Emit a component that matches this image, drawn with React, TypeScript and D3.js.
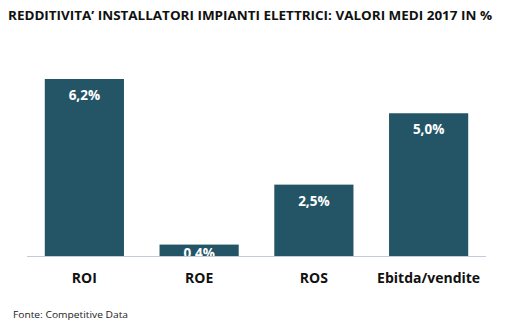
import React from "react";
import * as d3 from "d3";

const categories = ["ROI", "ROE", "ROS", "Ebitda/vendite"];
const values = [6.2, 0.4, 2.5, 5.0];
const valueLabels = ["6,2%", "0,4%", "2,5%", "5,0%"];
const title = "REDDITIVITA’ INSTALLATORI IMPIANTI ELETTRICI: VALORI MEDI 2017 IN %";
const source = "Fonte: Competitive Data";

export default function App() {
  const W = 530, H = 328;
  const baseY = 256;
  const x = d3.scaleBand<string>().domain(categories).range([27, 486]).paddingInner(0.31).paddingOuter(0.155);
  const y = d3.scaleLinear().domain([0, 6.2]).range([baseY, 79]);
  const font = "'Open Sans', Lato, sans-serif";
  return (
    <svg width={W} height={H} style={{ position: "absolute", left: 0, top: 0, background: "#fff" }} fontFamily={font}>
      <rect width={W} height={H} fill="#fff" />
      <text x={8} y={20} fontSize={13} fontWeight="bold" fill="#111" textLength={484} lengthAdjust="spacingAndGlyphs">{title}</text>
      {categories.map((c, i) => {
        const cx = (x(c) as number) + x.bandwidth() / 2;
        const top = y(values[i]);
        return (
          <g key={c}>
            <rect x={x(c)} y={top} width={x.bandwidth()} height={baseY - top} fill="#245567" />
            <text x={cx} y={Math.min(top + 21, baseY + 2)} textAnchor="middle" fontSize={13.5} fontWeight="bold" fill="#fff">{valueLabels[i]}</text>
            <text x={cx} y={283} textAnchor="middle" fontSize={14} fontWeight="bold" fill="#111">{c}</text>
          </g>
        );
      })}
      <rect x={27} y={baseY + 1} width={459} height={12} fill="#fff" />
      <line x1={27} x2={486} y1={baseY + 0.5} y2={baseY + 0.5} stroke="#c3c9df" strokeWidth={1} />
      <text x={13} y={318} fontSize={9.5} fill="#222" textLength={115} lengthAdjust="spacingAndGlyphs">{source}</text>
    </svg>
  );
}
